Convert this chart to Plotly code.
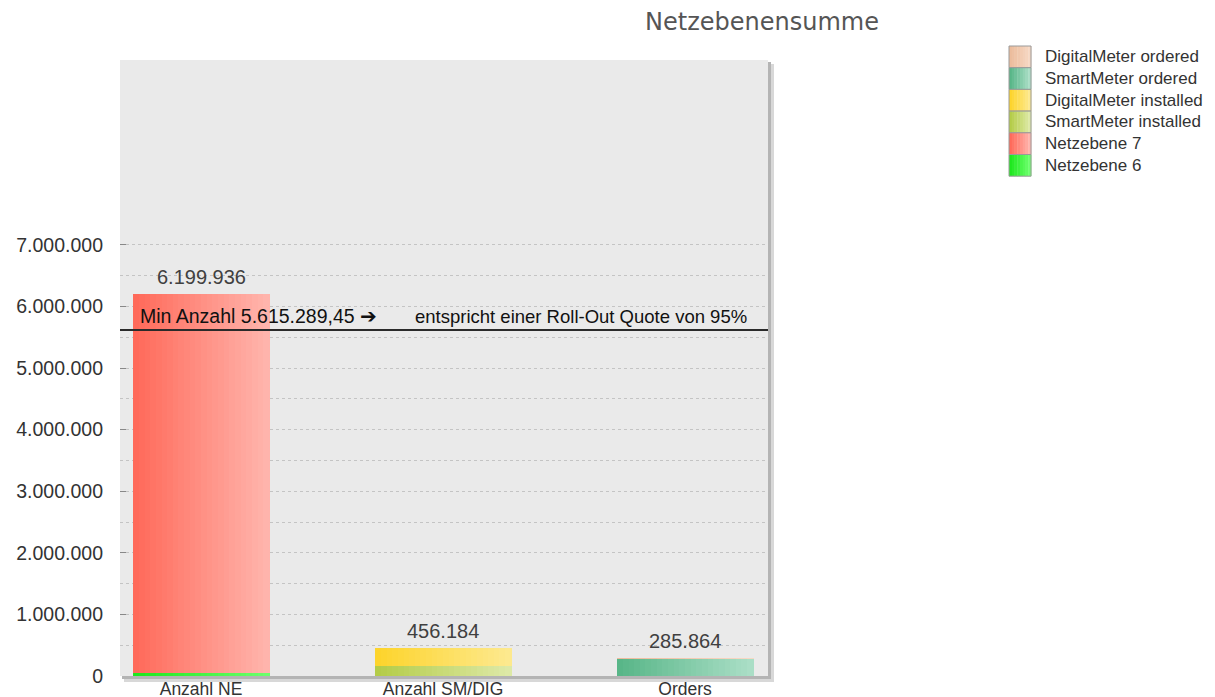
import plotly.graph_objects as go
import numpy as np

categories = ["Anzahl NE", "Anzahl SM/DIG", "Orders"]
series_names = ["Netzebene 6", "Netzebene 7", "SmartMeter installed",
                "DigitalMeter installed", "SmartMeter ordered", "DigitalMeter ordered"]
netzebene6 = [50000, 0, 0]
netzebene7 = [6149936, 0, 0]
sm_installed = [0, 165000, 0]
dm_installed = [0, 291184, 0]
sm_ordered = [0, 0, 278000]
dm_ordered = [0, 0, 7864]
totals = [6199936, 456184, 285864]
min_anzahl = 5615289.45
y_ticks = [0, 1000000, 2000000, 3000000, 4000000, 5000000, 6000000, 7000000]
y_minor = [500000, 1500000, 2500000, 3500000, 4500000, 5500000, 6500000]

series_values = [netzebene6, netzebene7, sm_installed, dm_installed, sm_ordered, dm_ordered]
grad = [("#1ee81e", "#6cff6c"), ("#ff6a5a", "#ffb4ac"), ("#b4cc48", "#dde9a6"),
        ("#fdd42c", "#fde98e"), ("#58b688", "#aadec6"), ("#ecbc9c", "#f6d8c4")]

W, H = 1215, 697
L, R, T, B = 120, 768, 60, 676
FONT = "Liberation Sans, Arial"


def px(x):
    return (x - L) / (R - L)


def py(y):
    return (B - y) / (B - T)


def mix(c1, c2, t):
    a = [int(c1[i:i + 2], 16) for i in (1, 3, 5)]
    b = [int(c2[i:i + 2], 16) for i in (1, 3, 5)]
    return "#%02x%02x%02x" % tuple(round(a[k] + (b[k] - a[k]) * t) for k in range(3))


fig = go.Figure()
N = 24
bw = 0.56
base = np.zeros(3)
for si, vals in enumerate(series_values):
    vals = np.array(vals, dtype=float)
    for j in range(N):
        xs, ys, bs = [], [], []
        for ci, c in enumerate(categories):
            if vals[ci] > 0:
                xs.append(c); ys.append(vals[ci]); bs.append(base[ci])
        if not xs:
            continue
        fig.add_trace(go.Bar(
            x=xs, y=ys, base=bs, width=bw / N * 1.15, offset=-bw / 2 + j * bw / N,
            marker=dict(color=mix(grad[si][0], grad[si][1], j / (N - 1)), line=dict(width=0)),
            name=series_names[si], legendgroup=series_names[si],
            showlegend=False, hoverinfo="skip"))
    base = base + vals


def de(n):
    return f"{n:,.0f}".replace(",", ".")


for c, t in zip(categories, totals):
    fig.add_annotation(x=c, y=t, text=de(t), showarrow=False, yanchor="bottom", yshift=4,
                       font=dict(family=FONT, size=20, color="#404040"))

fig.add_shape(type="line", xref="paper", x0=0, x1=1, yref="y", y0=min_anzahl, y1=min_anzahl,
              line=dict(color="#2a2a2a", width=2))
min_txt = "Min Anzahl " + f"{min_anzahl:,.2f}".replace(",", "X").replace(".", ",").replace("X", ".") + " ➔"
fig.add_annotation(xref="paper", x=px(138), y=min_anzahl, text=min_txt, showarrow=False,
                   xanchor="left", yanchor="bottom", yshift=1,
                   font=dict(family=FONT, size=19.5, color="#111111"))
fig.add_annotation(xref="paper", x=px(413), y=min_anzahl, text="entspricht einer Roll-Out Quote von 95%",
                   showarrow=False, xanchor="left", yanchor="bottom", yshift=1,
                   font=dict(family=FONT, size=18.5, color="#111111"))

# drop shadow + plot background
fig.add_shape(type="rect", xref="paper", yref="paper", x0=px(L + 4), x1=px(R + 6), y0=py(B + 6), y1=py(T + 4),
              fillcolor="#d8d8d8", line=dict(width=0), layer="below")
fig.add_shape(type="rect", xref="paper", yref="paper", x0=px(L + 2), x1=px(R + 3), y0=py(B + 3), y1=py(T + 2),
              fillcolor="#b4b4b4", line=dict(width=0), layer="below")
fig.add_shape(type="rect", xref="paper", yref="paper", x0=0, x1=1, y0=0, y1=1,
              fillcolor="#eaeaea", line=dict(width=0), layer="below")

# legend (top to bottom = reversed stacking order)
row_h = 21.7
top = 46
for k, si in enumerate(reversed(range(len(series_names)))):
    y0 = top + k * row_h
    y1 = y0 + row_h
    ns = 8
    for j in range(ns):
        fig.add_shape(type="rect", xref="paper", yref="paper",
                      x0=px(1009 + j * 22 / ns), x1=px(1009 + (j + 1) * 22 / ns + 0.4),
                      y0=py(y1), y1=py(y0), fillcolor=mix(grad[si][0], grad[si][1], j / (ns - 1)),
                      line=dict(width=0))
    fig.add_shape(type="rect", xref="paper", yref="paper", x0=px(1009), x1=px(1031),
                  y0=py(y1), y1=py(y0), line=dict(color="#9a9a9a", width=1))
    fig.add_annotation(xref="paper", yref="paper", x=px(1043), y=py((y0 + y1) / 2),
                       text=series_names[si], showarrow=False, xanchor="left", yanchor="middle",
                       font=dict(family=FONT, size=17, color="#333333"))

fig.update_layout(
    width=W, height=H,
    margin=dict(l=L, r=W - R, t=T, b=H - B),
    paper_bgcolor="white", plot_bgcolor="rgba(0,0,0,0)",
    barmode="overlay", bargap=0, showlegend=False,
    separators=",.",
    title=dict(text="Netzebenensumme", x=762 / W, xanchor="center", y=1 - 22 / H, yanchor="middle",
               font=dict(family="DejaVu Sans, Verdana", size=24, color="#555555")),
    xaxis=dict(type="category", categoryorder="array", categoryarray=categories,
               range=[-0.335, 2.343], showgrid=False, zeroline=False, showline=False,
               ticks="", automargin=False, ticklabelstandoff=0,
               tickfont=dict(family=FONT, size=17.5, color="#333333")),
    yaxis=dict(range=[0, 10000000], tickmode="array", tickvals=y_ticks, tickformat=",d",
               showgrid=True, gridcolor="#c4c4c4", griddash="dot", gridwidth=1,
               zeroline=False, showline=False, ticks="inside", ticklen=6, tickcolor="#888888",
               ticklabelstandoff=16, automargin=False,
               tickfont=dict(family=FONT, size=19.5, color="#333333"),
               minor=dict(tickmode="array", tickvals=y_minor,
                          showgrid=True, gridcolor="#c4c4c4", griddash="dot", gridwidth=1)),
)

fig.write_html("out.html")
